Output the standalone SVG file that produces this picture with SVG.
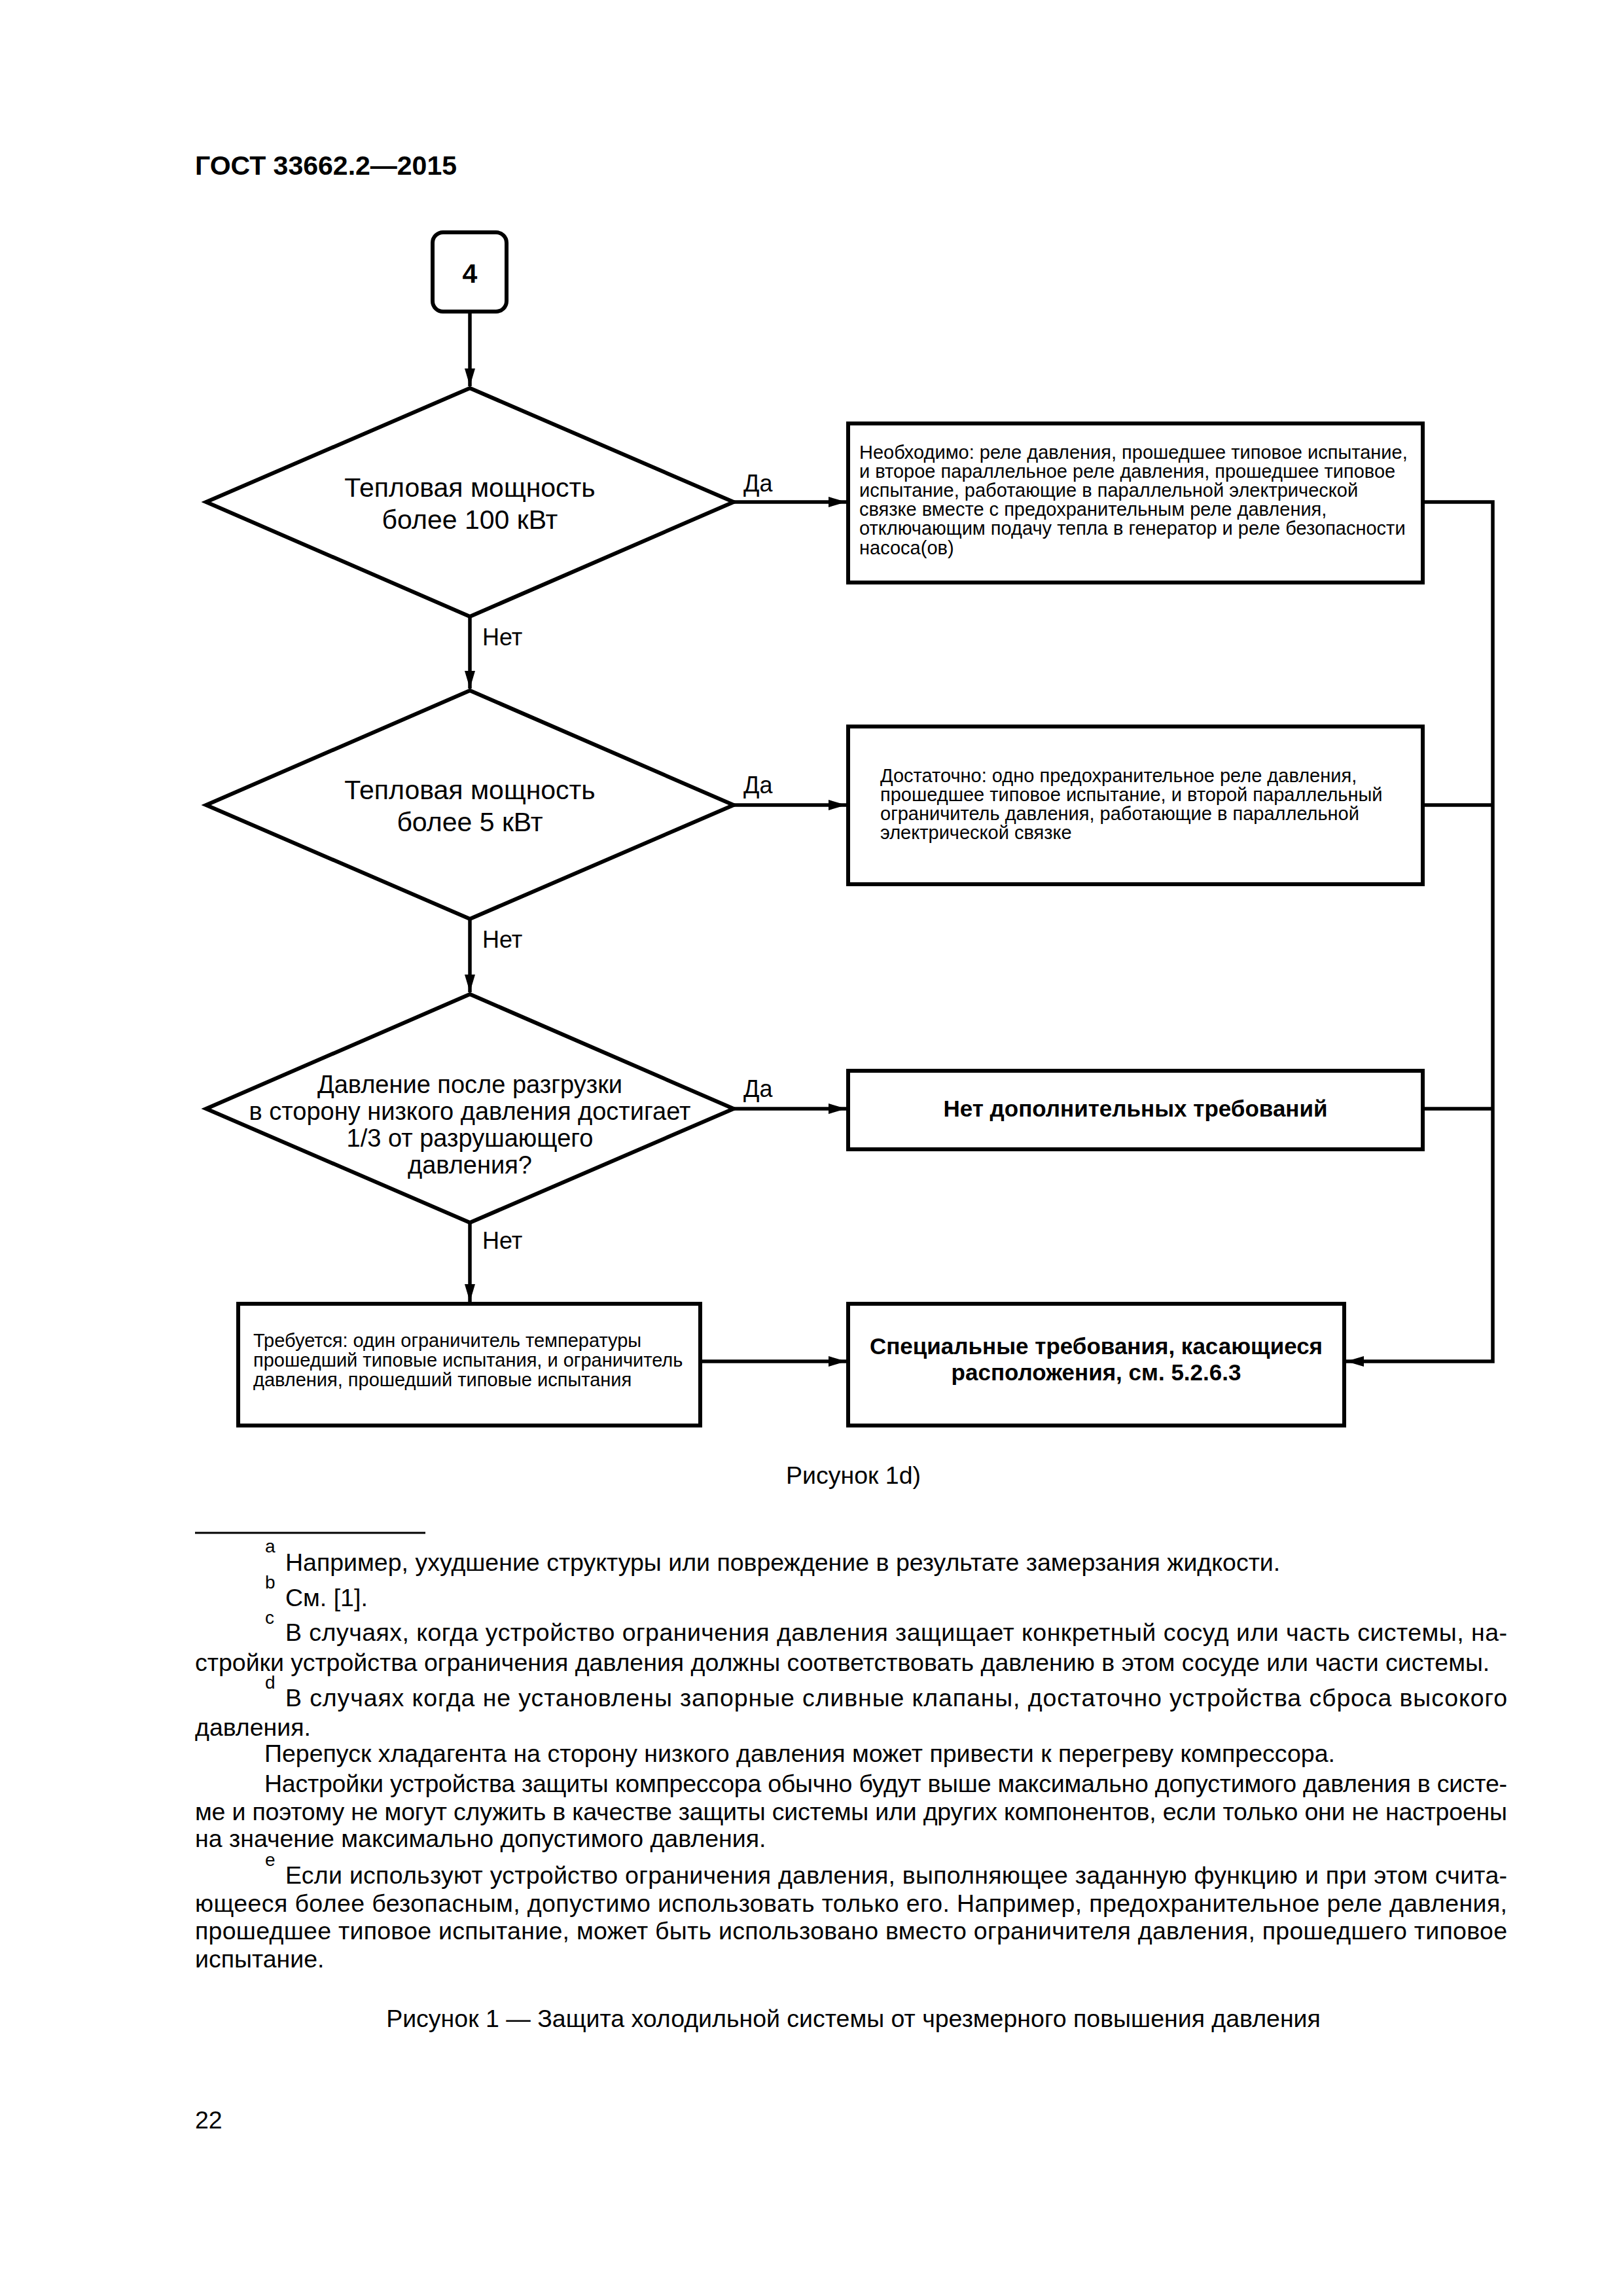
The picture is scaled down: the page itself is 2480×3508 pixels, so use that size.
<svg xmlns="http://www.w3.org/2000/svg" width="2480" height="3508" viewBox="0 0 2480 3508">
<style>
.t{font-family:"Liberation Sans",Arial,sans-serif;fill:#000}
.hd{font-size:41px;font-weight:bold}
.dt{font-size:41px;text-anchor:middle}
.dt3{font-size:38px;text-anchor:middle}
.st{font-size:29px}
.bt{font-size:35px;font-weight:bold;text-anchor:middle}
.lb{font-size:36px}
.fn{font-size:37.5px}
.sp{font-size:28px}
.shape{fill:#fff;stroke:#000;stroke-width:6}
.con{fill:none;stroke:#000;stroke-width:5.5}
</style>
<defs>
<marker id="arr" markerUnits="userSpaceOnUse" markerWidth="28" markerHeight="18" refX="27" refY="8" orient="auto">
<path d="M0,0 L27,8 L0,16 z" fill="#000"/>
</marker>
</defs>
<rect width="2480" height="3508" fill="#fff"/>
<text class="t hd" x="298" y="267">ГОСТ 33662.2—2015</text>

<g id="connectors">
<line class="con" x1="718" y1="476" x2="718" y2="590" marker-end="url(#arr)"/>
<line class="con" x1="1121" y1="767" x2="1293" y2="767" marker-end="url(#arr)"/>
<line class="con" x1="718" y1="942" x2="718" y2="1052" marker-end="url(#arr)"/>
<line class="con" x1="1121" y1="1230" x2="1293" y2="1230" marker-end="url(#arr)"/>
<line class="con" x1="718" y1="1404" x2="718" y2="1516" marker-end="url(#arr)"/>
<line class="con" x1="1121" y1="1694" x2="1293" y2="1694" marker-end="url(#arr)"/>
<line class="con" x1="718" y1="1868" x2="718" y2="1989" marker-end="url(#arr)"/>
<line class="con" x1="1070" y1="2080" x2="1293" y2="2080" marker-end="url(#arr)"/>
<polyline class="con" points="2174,767 2281,767 2281,2080 2057,2080" marker-end="url(#arr)"/>
<line class="con" x1="2174" y1="1230" x2="2281" y2="1230"/>
<line class="con" x1="2174" y1="1694" x2="2281" y2="1694"/>
<text class="t lb" x="1136" y="751">Да</text>
<text class="t lb" x="1136" y="1212">Да</text>
<text class="t lb" x="1136" y="1676">Да</text>
<text class="t lb" x="737" y="986">Нет</text>
<text class="t lb" x="737" y="1448">Нет</text>
<text class="t lb" x="737" y="1908">Нет</text>
</g>

<g id="start4">
<rect class="shape" x="661" y="355" width="113" height="121" rx="16"/>
<text class="t hd" x="718" y="432" text-anchor="middle">4</text>
</g>

<g id="decision1">
<polygon class="shape" points="718,593 1121,767 718,942 315,767"/>
<text class="t dt" x="718" y="759">Тепловая мощность</text>
<text class="t dt" x="718" y="808">более 100 кВт</text>
</g>

<g id="box1">
<rect class="shape" x="1296" y="647" width="878" height="243"/>
<text class="t st" x="1313" y="701">Необходимо: реле давления, прошедшее типовое испытание,</text>
<text class="t st" x="1313" y="730">и второе параллельное реле давления, прошедшее типовое</text>
<text class="t st" x="1313" y="759">испытание, работающие в параллельной электрической</text>
<text class="t st" x="1313" y="788">связке вместе с предохранительным реле давления,</text>
<text class="t st" x="1313" y="817">отключающим подачу тепла в генератор и реле безопасности</text>
<text class="t st" x="1313" y="847">насоса(ов)</text>
</g>

<g id="decision2">
<polygon class="shape" points="718,1055 1121,1230 718,1404 315,1230"/>
<text class="t dt" x="718" y="1221">Тепловая мощность</text>
<text class="t dt" x="718" y="1270">более 5 кВт</text>
</g>

<g id="box2">
<rect class="shape" x="1296" y="1110" width="878" height="241"/>
<text class="t st" x="1345" y="1195">Достаточно: одно предохранительное реле давления,</text>
<text class="t st" x="1345" y="1224">прошедшее типовое испытание, и второй параллельный</text>
<text class="t st" x="1345" y="1253">ограничитель давления, работающие в параллельной</text>
<text class="t st" x="1345" y="1282">электрической связке</text>
</g>

<g id="decision3">
<polygon class="shape" points="718,1519 1121,1694 718,1868 315,1694"/>
<text class="t dt3" x="718" y="1670">Давление после разгрузки</text>
<text class="t dt3" x="718" y="1711">в сторону низкого давления достигает</text>
<text class="t dt3" x="718" y="1752">1/3 от разрушающего</text>
<text class="t dt3" x="718" y="1793">давления?</text>
</g>

<g id="box3">
<rect class="shape" x="1296" y="1636" width="878" height="120"/>
<text class="t bt" x="1735" y="1706">Нет дополнительных требований</text>
</g>

<g id="box5">
<rect class="shape" x="364" y="1992" width="706" height="186"/>
<text class="t st" x="387" y="2058">Требуется: один ограничитель температуры</text>
<text class="t st" x="387" y="2088">прошедший типовые испытания, и ограничитель</text>
<text class="t st" x="387" y="2118">давления, прошедший типовые испытания</text>
</g>

<g id="box4">
<rect class="shape" x="1296" y="1992" width="758" height="186"/>
<text class="t bt" x="1675" y="2069">Специальные требования, касающиеся</text>
<text class="t bt" x="1675" y="2109">расположения, см. 5.2.6.3</text>
</g>

<text class="t fn" x="1304" y="2267" text-anchor="middle">Рисунок 1d)</text>

<line x1="298" y1="2342" x2="650" y2="2342" stroke="#000" stroke-width="3"/>

<g id="footnotes">
<text class="t sp" x="405" y="2372">a</text>
<text class="t fn" x="436" y="2400">Например, ухудшение структуры или повреждение в результате замерзания жидкости.</text>
<text class="t sp" x="405" y="2427">b</text>
<text class="t fn" x="436" y="2454">См. [1].</text>
<text class="t sp" x="405" y="2481">c</text>
<text class="t fn" x="436" y="2507" textLength="1867" lengthAdjust="spacing">В случаях, когда устройство ограничения давления защищает конкретный сосуд или часть системы, на-</text>
<text class="t fn" x="298" y="2553">стройки устройства ограничения давления должны соответствовать давлению в этом сосуде или части системы.</text>
<text class="t sp" x="405" y="2580">d</text>
<text class="t fn" x="436" y="2607" textLength="1867" lengthAdjust="spacing">В случаях когда не установлены запорные сливные клапаны, достаточно устройства сброса высокого</text>
<text class="t fn" x="298" y="2652">давления.</text>
<text class="t fn" x="404" y="2692">Перепуск хладагента на сторону низкого давления может привести к перегреву компрессора.</text>
<text class="t fn" x="404" y="2738" textLength="1899" lengthAdjust="spacing">Настройки устройства защиты компрессора обычно будут выше максимально допустимого давления в систе-</text>
<text class="t fn" x="298" y="2781" textLength="2005" lengthAdjust="spacing">ме и поэтому не могут служить в качестве защиты системы или других компонентов, если только они не настроены</text>
<text class="t fn" x="298" y="2822">на значение максимально допустимого давления.</text>
<text class="t sp" x="405" y="2851">e</text>
<text class="t fn" x="436" y="2878" textLength="1867" lengthAdjust="spacing">Если используют устройство ограничения давления, выполняющее заданную функцию и при этом счита-</text>
<text class="t fn" x="298" y="2921" textLength="2005" lengthAdjust="spacing">ющееся более безопасным, допустимо использовать только его. Например, предохранительное реле давления,</text>
<text class="t fn" x="298" y="2963" textLength="2005" lengthAdjust="spacing">прошедшее типовое испытание, может быть использовано вместо ограничителя давления, прошедшего типовое</text>
<text class="t fn" x="298" y="3006">испытание.</text>
</g>

<text class="t fn" x="1304" y="3097" text-anchor="middle">Рисунок 1 — Защита холодильной системы от чрезмерного повышения давления</text>
<text class="t fn" x="298" y="3252">22</text>
</svg>
